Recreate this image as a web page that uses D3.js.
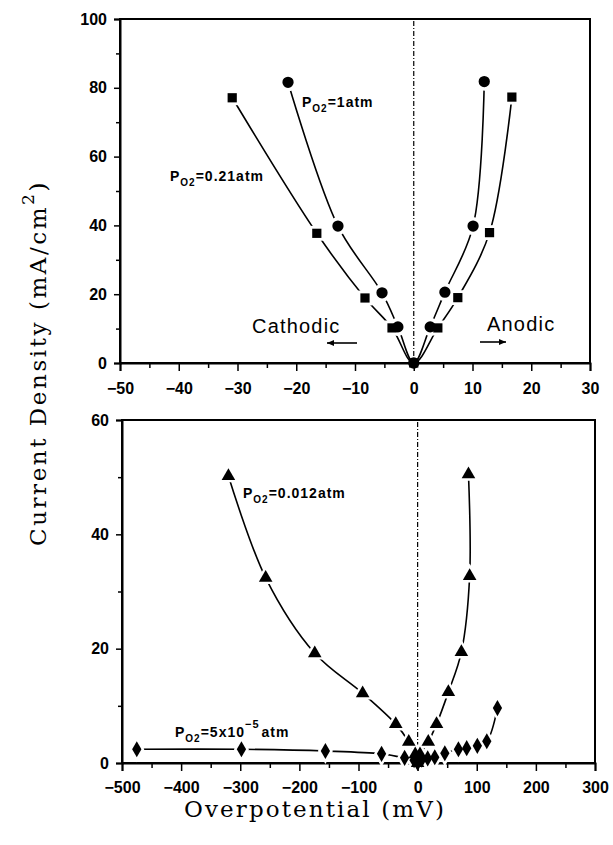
<!DOCTYPE html>
<html>
<head>
<meta charset="utf-8">
<script src="https://cdn.jsdelivr.net/npm/d3@7"></script>
<style>
  html, body { margin: 0; padding: 0; background: #fff; }
  svg { display: block; }
  .tick text { font-family: "Liberation Sans", Arial, sans-serif; font-weight: bold; font-size: 16px; fill: #000; }
  .lbl { font-family: "Liberation Sans", Arial, sans-serif; font-weight: bold; font-size: 14px; fill: #000; letter-spacing: 1px; }
  .dir { font-family: "Liberation Sans", Arial, sans-serif; font-size: 20px; fill: #000; letter-spacing: 1.2px; }
  .title { font-family: "DejaVu Serif", "Liberation Serif", serif; font-size: 23px; fill: #000; }
</style>
</head>
<body>
<svg id="chart" width="613" height="845"></svg>
<script>
// Upper panel: higher oxygen partial pressures (mV range -50..30)
const eta1atm = [-21.4, -12.9, -5.4, -2.7, 0, 2.8, 5.3, 10.1, 12.0];
const cur1atm = [81.6, 39.8, 20.4, 10.5, 0, 10.5, 20.6, 39.8, 81.8];
const eta021 = [-30.9, -16.5, -8.3, -3.7, 0, 4.1, 7.5, 12.9, 16.7];
const cur021 = [77.1, 37.7, 18.9, 10.2, 0, 10.2, 19.0, 37.9, 77.3];

// Lower panel: low oxygen partial pressures (mV range -500..300)
const eta0012 = [-320, -257, -174, -93, -37, -15, -4, 0, 4, 18, 32, 52, 74, 88, 86];
const cur0012 = [50.2, 32.4, 19.2, 12.2, 6.8, 3.7, 1.5, 0, 1.5, 3.7, 6.8, 12.4, 19.4, 32.7, 50.5];
const eta5e5 = [-475, -298, -156, -61, -22, -6, 0, 7, 17, 29, 46, 69, 83, 101, 117, 135];
const cur5e5 = [2.4, 2.4, 2.1, 1.6, 0.9, 0.5, 0, 0.6, 0.8, 1.0, 1.7, 2.4, 2.6, 3.0, 3.8, 9.6];

// Tick values
const topXTicks = [-50, -40, -30, -20, -10, 0, 10, 20, 30];
const topYTicks = [0, 20, 40, 60, 80, 100];
const botXTicks = [-500, -400, -300, -200, -100, 0, 100, 200, 300];
const botYTicks = [0, 20, 40, 60];

const svg = d3.select("#chart");

const xT = d3.scaleLinear().domain([-50, 30]).range([120, 590]);
const yT = d3.scaleLinear().domain([0, 100]).range([363, 19]);
const xB = d3.scaleLinear().domain([-500, 300]).range([122, 595]);
const yB = d3.scaleLinear().domain([0, 60]).range([763, 420]);

const sym = {
  circle: d3.symbolCircle,
  square: d3.symbolSquare,
  triangle: d3.symbolTriangle,
  diamond: d3.symbolDiamond
};

function panel(x, y, xTicks, xMinor, yTicks, yMinor, xPad, series) {
  const g = svg.append("g");
  const [x0, x1] = x.range();
  const [y0, y1] = y.range();

  // frame
  g.append("rect").attr("x", x0).attr("y", y1).attr("width", x1 - x0).attr("height", y0 - y1)
    .attr("fill", "none").attr("stroke", "#000").attr("stroke-width", 2);

  // zero overpotential reference line
  g.append("line").attr("x1", x(0)).attr("x2", x(0)).attr("y1", y1 + 2).attr("y2", y0)
    .attr("stroke", "#000").attr("stroke-width", 1.2).attr("stroke-dasharray", "5,2,1,2");

  // minor ticks
  g.append("g").attr("transform", `translate(0,${y0})`)
    .call(d3.axisBottom(x).tickValues(xMinor).tickSize(5).tickFormat(""))
    .call(a => a.select(".domain").remove())
    .selectAll("line").attr("stroke-width", 1.5);
  g.append("g").attr("transform", `translate(${x0},0)`)
    .call(d3.axisLeft(y).tickValues(yMinor).tickSize(4).tickFormat(""))
    .call(a => a.select(".domain").remove())
    .selectAll("line").attr("stroke-width", 1.5);

  // major ticks + labels
  g.append("g").attr("transform", `translate(0,${y0})`)
    .call(d3.axisBottom(x).tickValues(xTicks).tickSize(8).tickPadding(xPad))
    .call(a => a.select(".domain").attr("stroke-width", 2))
    .selectAll("line").attr("stroke-width", 1.5);
  g.append("g").attr("transform", `translate(${x0},0)`)
    .call(d3.axisLeft(y).tickValues(yTicks).tickSize(6).tickPadding(7))
    .call(a => a.select(".domain").attr("stroke-width", 2))
    .selectAll("line").attr("stroke-width", 1.5);

  const line = d3.line().x(d => x(d[0])).y(d => y(d[1])).curve(d3.curveCatmullRom.alpha(0.5));

  series.forEach(s => {
    const pts = s.xs.map((v, i) => [v, s.ys[i]]);
    g.append("path").attr("d", line(pts)).attr("fill", "none")
      .attr("stroke", "#000").attr("stroke-width", 1.6);
  });
  // white halos leave a small gap between curves and markers
  series.forEach(s => {
    const pts = s.xs.map((v, i) => [v, s.ys[i]]).filter(p => !(p[0] === 0 && p[1] === 0));
    g.selectAll(null).data(pts).enter().append("path")
      .attr("d", d3.symbol().type(sym[s.shape]).size(s.size * 2.6))
      .attr("transform", d => `translate(${x(d[0])},${y(d[1])})`)
      .attr("fill", "#fff");
  });
  series.forEach(s => {
    const pts = s.xs.map((v, i) => [v, s.ys[i]]);
    g.selectAll(null).data(pts).enter().append("path")
      .attr("d", d3.symbol().type(sym[s.shape]).size(s.size))
      .attr("transform", d => `translate(${x(d[0])},${y(d[1])})`)
      .attr("fill", "#000");
  });
  return g;
}

panel(xT, yT, topXTicks, d3.range(-45, 30, 10), topYTicks, d3.range(10, 100, 20), 12, [
  { xs: eta021, ys: cur021, shape: "square", size: 85 },
  { xs: eta1atm, ys: cur1atm, shape: "circle", size: 100 }
]);

panel(xB, yB, botXTicks, d3.range(-450, 300, 100), botYTicks, d3.range(10, 60, 20), 11, [
  { xs: eta0012, ys: cur0012, shape: "triangle", size: 80 },
  { xs: eta5e5, ys: cur5e5, shape: "diamond", size: 75 }
]);

// partial-pressure labels: P with subscript O2
function pLabel(px, py, rest, sup, tail) {
  const t = svg.append("text").attr("class", "lbl").attr("x", px).attr("y", py);
  t.append("tspan").text("P");
  t.append("tspan").attr("dy", 5).attr("font-size", "10px").text("O2");
  t.append("tspan").attr("dy", -5).text(rest);
  if (sup) {
    t.append("tspan").attr("dy", -9).attr("font-size", "11px").text(sup);
    t.append("tspan").attr("dy", 9).attr("dx", 2).text(tail);
  }
}
pLabel(302, 107, "=1atm");
pLabel(170, 181, "=0.21atm");
pLabel(243, 498, "=0.012atm");
pLabel(175, 737, "=5x10", "−5", "atm");

// direction annotations
svg.append("text").attr("class", "dir").attr("x", 252).attr("y", 333).text("Cathodic");
svg.append("text").attr("class", "dir").attr("x", 487).attr("y", 331).text("Anodic");
const arrow = (xa, xb, yy) => {
  svg.append("line").attr("x1", xa).attr("x2", xb).attr("y1", yy).attr("y2", yy)
    .attr("stroke", "#000").attr("stroke-width", 1.6);
  const dir = Math.sign(xb - xa);
  svg.append("path")
    .attr("d", `M${xb},${yy} L${xb - dir * 7},${yy - 3} L${xb - dir * 7},${yy + 3} Z`)
    .attr("fill", "#000");
};
arrow(357, 327, 343);
arrow(480, 506, 342);

// stretch a title's letter spacing to a given run length
function fitWidth(sel, target) {
  const n = sel.text().length;
  const len = sel.node().getComputedTextLength();
  sel.style("letter-spacing", ((target - len) / n) + "px");
}

// axis titles
const xt = svg.append("text").attr("class", "title").attr("text-anchor", "middle")
  .attr("x", 315).attr("y", 817).text("Overpotential (mV)");
fitWidth(xt, 262);

const yt = svg.append("text").attr("class", "title").attr("text-anchor", "middle")
  .attr("transform", "translate(46,363) rotate(-90)");
yt.append("tspan").text("Current Density (mA/cm");
yt.append("tspan").attr("dy", -12).attr("font-size", "17px").text("2");
yt.append("tspan").attr("dy", 12).text(")");
fitWidth(yt, 366);
</script>
</body>
</html>
